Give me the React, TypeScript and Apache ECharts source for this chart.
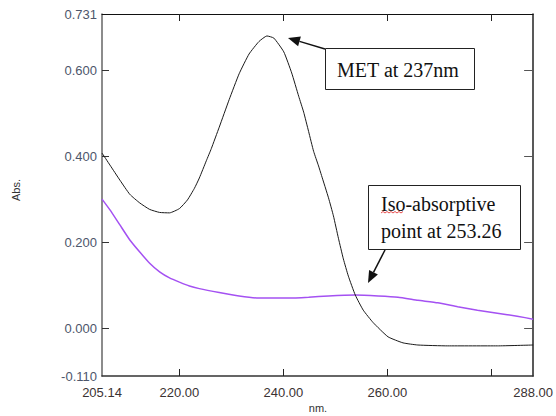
import React, { useEffect, useRef } from "react";
import * as echarts from "echarts";

// MET spectrum (black)
const metWavelength = [205.14, 206.67, 208.58, 210.49, 212.4, 214.3, 216.21, 218.12, 220.03, 221.56, 222.9, 223.85, 225.19, 226.14, 227.67, 229.58, 231.49, 233.4, 235.3, 236.83, 238.17, 240.08, 241.6, 242.94, 243.9, 244.85, 245.81, 246.76, 247.33, 248.67, 249.62, 250.58, 251.53, 252.49, 253.82, 255.35, 257.26, 260.12, 262.99, 265.85, 271.58, 281.12, 288.0];
const metAbs = [0.408, 0.38, 0.345, 0.312, 0.292, 0.277, 0.27, 0.269, 0.279, 0.299, 0.326, 0.35, 0.39, 0.418, 0.468, 0.532, 0.592, 0.638, 0.667, 0.68, 0.675, 0.643, 0.594, 0.54, 0.503, 0.458, 0.412, 0.378, 0.356, 0.304, 0.262, 0.21, 0.162, 0.122, 0.078, 0.043, 0.014, -0.019, -0.033, -0.038, -0.04, -0.04, -0.038];

// second spectrum (purple)
const mixWavelength = [205.14, 206.67, 208.58, 210.49, 212.4, 214.3, 216.21, 218.12, 220.03, 221.94, 223.85, 227.67, 231.49, 235.3, 241.03, 244.85, 248.67, 253.82, 258.21, 262.03, 265.85, 269.67, 273.49, 277.3, 281.12, 284.94, 288.0];
const mixAbs = [0.301, 0.276, 0.241, 0.206, 0.178, 0.152, 0.132, 0.118, 0.108, 0.099, 0.093, 0.084, 0.076, 0.071, 0.071, 0.073, 0.076, 0.078, 0.076, 0.073, 0.066, 0.06, 0.051, 0.043, 0.036, 0.029, 0.022];

const xTickValues = [220, 240, 260, 280];
const xLabelValues = [205.14, 220, 240, 260, 288];
const yTickValues = [0, 0.2, 0.4, 0.6];
const yLabelValues = [-0.11, 0, 0.2, 0.4, 0.6, 0.731];
const X_MIN = 205.14;
const X_MAX = 288;
const Y_MIN = -0.11;
const Y_MAX = 0.731;

const labelFont = "Liberation Sans, Arial, sans-serif";
const serifFont = "Liberation Serif, Times New Roman, serif";

function zip(xs: number[], ys: number[]) {
  return xs.map((x, i) => [x, ys[i]]);
}

export default function App() {
  const ref = useRef<HTMLDivElement>(null);
  useEffect(() => {
    if (!ref.current) return;
    const chart = echarts.init(ref.current, undefined, { renderer: "svg" });
    chart.setOption({
      animation: false,
      backgroundColor: "#ffffff",
      grid: { left: 102, right: 20, top: 14, bottom: 40 },
      xAxis: [
        {
          type: "value",
          min: X_MIN,
          max: X_MAX,
          position: "bottom",
          axisLine: { show: true, onZero: false, lineStyle: { color: "#333", width: 1.5 } },
          axisTick: { show: true, inside: true, length: 7, customValues: xTickValues, lineStyle: { color: "#222" } },
          axisLabel: {
            show: true,
            customValues: xLabelValues,
            formatter: (v: number) => v.toFixed(2),
            color: "#3a3232",
            fontFamily: labelFont,
            fontSize: 13,
            margin: 10,
          },
          splitLine: { show: false },
        },
        {
          type: "value",
          min: X_MIN,
          max: X_MAX,
          position: "top",
          axisLine: { show: true, onZero: false, lineStyle: { color: "#111", width: 1 } },
          axisTick: { show: true, inside: true, length: 7, customValues: xTickValues, lineStyle: { color: "#222" } },
          axisLabel: { show: false },
          splitLine: { show: false },
        },
      ],
      yAxis: [
        {
          type: "value",
          min: Y_MIN,
          max: Y_MAX,
          position: "left",
          axisLine: { show: true, onZero: false, lineStyle: { color: "#666", width: 1.5 } },
          axisTick: { show: true, inside: true, length: 7, customValues: yTickValues, lineStyle: { color: "#333" } },
          axisLabel: {
            show: true,
            customValues: yLabelValues,
            formatter: (v: number) => v.toFixed(3),
            color: "#4d566b",
            fontFamily: labelFont,
            fontSize: 13,
            margin: 5,
          },
          splitLine: { show: false },
        },
        {
          type: "value",
          min: Y_MIN,
          max: Y_MAX,
          position: "right",
          axisLine: { show: true, onZero: false, lineStyle: { color: "#222", width: 1.5 } },
          axisTick: { show: true, inside: true, length: 9, customValues: yTickValues, lineStyle: { color: "#555" } },
          axisLabel: { show: false },
          splitLine: { show: false },
        },
      ],
      series: [
        {
          type: "line",
          name: "MET",
          data: zip(metWavelength, metAbs),
          showSymbol: false,
          smooth: 0.15,
          lineStyle: { color: "#1a1a1a", width: 1 },
          xAxisIndex: 0,
          yAxisIndex: 0,
          z: 3,
        },
        {
          type: "line",
          name: "Mixture",
          data: zip(mixWavelength, mixAbs),
          showSymbol: false,
          smooth: 0.15,
          lineStyle: { color: "#a451f2", width: 1.5 },
          xAxisIndex: 0,
          yAxisIndex: 0,
          z: 2,
        },
      ],
      graphic: [
        {
          type: "text",
          x: 16,
          y: 190,
          rotation: Math.PI / 2,
          style: { text: "Abs.", fontFamily: labelFont, fontSize: 11, fill: "#333", align: "center", verticalAlign: "middle" },
        },
        {
          type: "text",
          x: 318,
          y: 408,
          style: { text: "nm.", fontFamily: labelFont, fontSize: 11, fill: "#333", align: "center", verticalAlign: "middle" },
        },
        // MET annotation box
        {
          type: "rect",
          shape: { x: 325.5, y: 48.5, width: 149, height: 41 },
          style: { fill: "#fff", stroke: "#222", lineWidth: 1 },
          z: 10,
        },
        {
          type: "text",
          x: 398,
          y: 70,
          style: { text: "MET at 237nm", fontFamily: serifFont, fontSize: 20, fill: "#111", align: "center", verticalAlign: "middle" },
          z: 11,
        },
        {
          type: "line",
          shape: { x1: 325, y1: 49, x2: 299.5, y2: 41.4 },
          style: { stroke: "#111", lineWidth: 1.5 },
          z: 10,
        },
        {
          type: "polygon",
          shape: { points: [[288, 38], [300.9, 36.6], [298.1, 46.2]] },
          style: { fill: "#111" },
          z: 10,
        },
        // Iso-absorptive annotation box
        {
          type: "rect",
          shape: { x: 368.5, y: 185.5, width: 152, height: 64 },
          style: { fill: "#fff", stroke: "#222", lineWidth: 1 },
          z: 10,
        },
        {
          type: "text",
          x: 381,
          y: 204,
          style: { text: "Iso-absorptive", fontFamily: serifFont, fontSize: 20, fill: "#111", align: "left", verticalAlign: "middle" },
          z: 11,
        },
        {
          type: "text",
          x: 381,
          y: 231,
          style: { text: "point at 253.26", fontFamily: serifFont, fontSize: 20, fill: "#111", align: "left", verticalAlign: "middle" },
          z: 11,
        },
        {
          type: "polyline",
          shape: { points: [[381, 213], [383, 211.5], [385, 213], [387, 211.5], [389, 213], [391, 211.5], [393, 213], [395, 211.5], [397, 213], [399, 211.5], [401, 213], [403, 211.5]] },
          style: { stroke: "#e02020", lineWidth: 0.8, fill: "none" },
          z: 11,
        },
        {
          type: "line",
          shape: { x1: 385, y1: 250, x2: 373.5, y2: 272.3 },
          style: { stroke: "#111", lineWidth: 1.5 },
          z: 10,
        },
        {
          type: "polygon",
          shape: { points: [[368, 283], [369.1, 270], [377.9, 274.6]] },
          style: { fill: "#111" },
          z: 10,
        },
      ],
    });
    return () => chart.dispose();
  }, []);
  return (
    <div
      ref={ref}
      style={{ position: "absolute", left: 0, top: 0, width: 556, height: 416 }}
    />
  );
}
